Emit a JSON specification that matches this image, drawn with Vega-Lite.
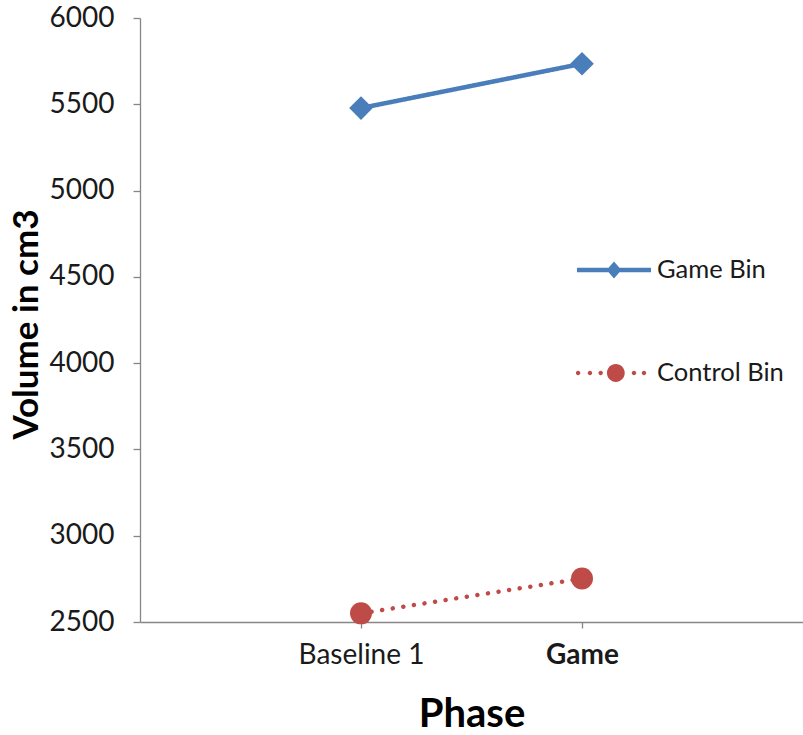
{
  "$schema": "https://vega.github.io/schema/vega-lite/v6.json",
  "width": 663,
  "height": 604,
  "autosize": "none",
  "padding": {"left": 140, "top": 18, "right": 0, "bottom": 113},
  "background": "white",
  "config": {
    "font": "Lato",
    "view": {"stroke": null},
    "axis": {"grid": false, "domainColor": "#868686", "tickColor": "#868686", "domainWidth": 1.3, "tickWidth": 1.3, "labelColor": "#1a1a1a", "titleColor": "#000000"}
  },
  "data": {
    "values": [
      {"phase": "Baseline 1", "series": "Game Bin", "volume": 5478},
      {"phase": "Game", "series": "Game Bin", "volume": 5735},
      {"phase": "Baseline 1", "series": "Control Bin", "volume": 2550},
      {"phase": "Game", "series": "Control Bin", "volume": 2752}
    ]
  },
  "encoding": {
    "x": {
      "field": "phase",
      "type": "ordinal",
      "sort": ["Baseline 1", "Game"],
      "scale": {"type": "point", "domain": ["Baseline 1", "Game"], "padding": 1},
      "axis": {
        "title": "Phase",
        "labelAngle": 0,
        "labelFontSize": 28,
        "labelFontWeight": {"condition": {"test": "datum.value === 'Game'", "value": "bold"}, "value": "normal"},
        "labelPadding": 13,
        "tickSize": 6,
        "titleFontSize": 40,
        "titleFontWeight": "bold",
        "titlePadding": 25
      }
    },
    "y": {
      "field": "volume",
      "type": "quantitative",
      "scale": {"domain": [2500, 6000], "nice": false, "zero": false},
      "axis": {
        "title": "Volume in cm3",
        "values": [2500, 3000, 3500, 4000, 4500, 5000, 5500, 6000],
        "format": "d",
        "labelFontSize": 28,
        "labelPadding": 19,
        "tickSize": 7,
        "titleFontSize": 35,
        "titleFontWeight": "bold",
        "titleBaseline": "alphabetic",
        "titleX": -103,
        "titleY": 306
      }
    }
  },
  "layer": [
    {
      "mark": {"type": "line", "strokeWidth": 4.5, "strokeCap": "round"},
      "encoding": {
        "color": {"field": "series", "type": "nominal", "scale": {"domain": ["Game Bin", "Control Bin"], "range": ["#4A7EBB", "#BE4B48"]}, "legend": null},
        "strokeDash": {"field": "series", "type": "nominal", "scale": {"domain": ["Game Bin", "Control Bin"], "range": [[1, 0], [0.01, 10.7]]}, "legend": null}
      }
    },
    {
      "mark": {"type": "point", "filled": true, "opacity": 1},
      "encoding": {
        "color": {"field": "series", "type": "nominal", "scale": {"domain": ["Game Bin", "Control Bin"], "range": ["#4A7EBB", "#BE4B48"]}, "legend": null},
        "shape": {"field": "series", "type": "nominal", "scale": {"domain": ["Game Bin", "Control Bin"], "range": ["diamond", "circle"]}, "legend": null},
        "size": {"field": "series", "type": "nominal", "scale": {"domain": ["Game Bin", "Control Bin"], "range": [560, 484]}, "legend": null}
      }
    },
    {
      "mark": {"type": "point", "filled": true, "opacity": 0, "size": 5476},
      "encoding": {
        "color": {"field": "series", "type": "nominal", "scale": {"domain": ["Game Bin", "Control Bin"], "range": ["#4A7EBB", "#BE4B48"]},
          "legend": {"title": null, "orient": "none", "legendX": 437, "legendY": 215, "labelFontSize": 25.5, "labelColor": "#1a1a1a", "labelOffset": 6, "rowPadding": 52, "symbolOpacity": 1, "symbolSize": 5476, "symbolStrokeWidth": 0, "padding": 0}},
        "shape": {"field": "series", "type": "nominal",
          "scale": {"domain": ["Game Bin", "Control Bin"], "range": [
            "M-1,-0.06L1,-0.06L1,0.06L-1,0.06Z M0,-0.23L0.2,0L0,0.23L-0.2,0Z",
            "M-1.03,0A0.06,0.06 0 1,0 -0.91,0A0.06,0.06 0 1,0 -1.03,0Z M-0.71,0A0.06,0.06 0 1,0 -0.59,0A0.06,0.06 0 1,0 -0.71,0Z M-0.42,0A0.06,0.06 0 1,0 -0.3,0A0.06,0.06 0 1,0 -0.42,0Z M-0.19,0A0.24,0.24 0 1,0 0.29,0A0.24,0.24 0 1,0 -0.19,0Z M0.48,0A0.06,0.06 0 1,0 0.6,0A0.06,0.06 0 1,0 0.48,0Z M0.75,0A0.06,0.06 0 1,0 0.87,0A0.06,0.06 0 1,0 0.75,0Z"
          ]},
          "legend": {"title": null, "orient": "none", "legendX": 437, "legendY": 215, "labelFontSize": 25.5, "labelColor": "#1a1a1a", "labelOffset": 6, "rowPadding": 52, "symbolOpacity": 1, "symbolSize": 5476, "symbolStrokeWidth": 0, "padding": 0}}
      }
    }
  ],
  "resolve": {"scale": {"color": "independent", "shape": "independent"}}
}
